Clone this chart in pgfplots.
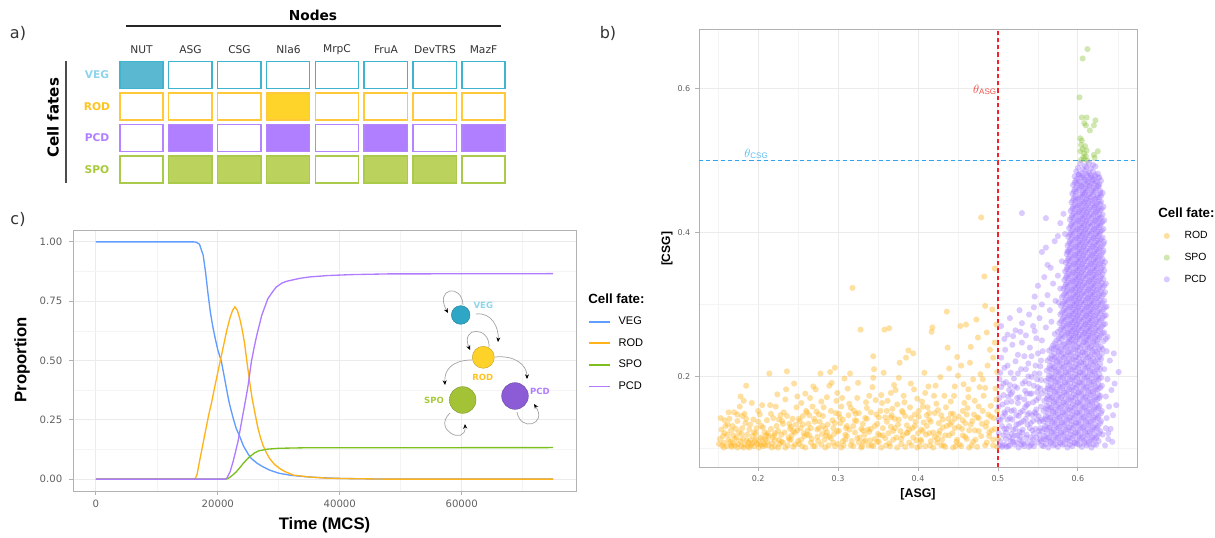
\documentclass[border=0pt]{standalone}
\usepackage{pgfplots}
\pgfplotsset{compat=1.18}
\usepackage{fontspec}
\setmainfont{Liberation Sans}
\newfontfamily\dejavu{DejaVu Sans}
\usetikzlibrary{arrows.meta}
\definecolor{vegL}{HTML}{619CFF}
\definecolor{rodL}{HTML}{FFB21A}
\definecolor{spoL}{HTML}{7CBF1F}
\definecolor{pcdL}{HTML}{B07CFF}
\definecolor{rodP}{HTML}{FFB21A}
\definecolor{spoP}{HTML}{8DC43E}
\definecolor{pcdP}{HTML}{A47AFF}
\definecolor{vegB}{HTML}{40B3CF}
\definecolor{vegF}{HTML}{5BB8D1}
\definecolor{rodB}{HTML}{FFC93A}
\definecolor{rodF}{HTML}{FFD42A}
\definecolor{pcdB}{HTML}{B585FF}
\definecolor{pcdF}{HTML}{AF7FFF}
\definecolor{spoB}{HTML}{AACA4C}
\definecolor{spoF}{HTML}{BBD35C}
\definecolor{vegT}{HTML}{8ED4EA}
\definecolor{rodT}{HTML}{FFC31F}
\definecolor{pcdT}{HTML}{B07EFF}
\definecolor{spoT}{HTML}{A8CA3A}
\definecolor{vegN}{HTML}{2EA6C6}
\definecolor{rodN}{HTML}{FFD22A}
\definecolor{spoN}{HTML}{A4C236}
\definecolor{pcdN}{HTML}{8B5CD6}
\definecolor{thA}{HTML}{F0504A}
\definecolor{thC}{HTML}{5CBEF5}
\definecolor{lnA}{HTML}{F0222B}
\definecolor{lnC}{HTML}{2FA5EE}
\pgfdeclareplotmark{cell}{\pgfpathrectangle{\pgfpoint{-16.2pt}{-10pt}}{\pgfpoint{32.4pt}{20pt}}\pgfusepathqfillstroke}
\pgfplotsset{
  ggbox/.style={scale only axis, axis line style={gray!60, line width=0.6pt},
    tick style={gray!60, line width=0.6pt}, tick align=outside, major tick length=3pt, minor tick length=0pt,
    xtick pos=left, ytick pos=left, grid=both,
    major grid style={gray!16, line width=0.7pt}, minor grid style={gray!9, line width=0.45pt},
    scaled ticks=false, /pgf/number format/assume math mode=true},
}
\begin{document}
\begin{tikzpicture}
\useasboundingbox (0,0) rectangle (911.25pt,-403.5pt);
% ---------------- panel a ----------------
\begin{axis}[at={(0pt,-153.75pt)}, anchor=south west, scale only axis, width=450pt, height=153.75pt,
  xmin=-2.896, xmax=9.384, ymin=-2.381, ymax=4.127, y dir=reverse, axis lines=none, clip=false]
\addplot[only marks, mark=cell, mark options={draw=vegB, fill=vegF, line width=1.1pt}] coordinates {(0,0)};
\addplot[only marks, mark=cell, mark options={draw=vegB, fill=white, line width=1.1pt}] coordinates {(1,0)(2,0)(3,0)(4,0)(5,0)(6,0)(7,0)};
\addplot[only marks, mark=cell, mark options={draw=rodB, fill=rodF, line width=1.1pt}] coordinates {(3,1)};
\addplot[only marks, mark=cell, mark options={draw=rodB, fill=white, line width=1.1pt}] coordinates {(0,1)(1,1)(2,1)(4,1)(5,1)(6,1)(7,1)};
\addplot[only marks, mark=cell, mark options={draw=pcdB, fill=pcdF, line width=1.1pt}] coordinates {(1,2)(3,2)(5,2)(7,2)};
\addplot[only marks, mark=cell, mark options={draw=pcdB, fill=white, line width=1.1pt}] coordinates {(0,2)(2,2)(4,2)(6,2)};
\addplot[only marks, mark=cell, mark options={draw=spoB, fill=spoF, line width=1.1pt}] coordinates {(1,3)(2,3)(3,3)(5,3)(6,3)};
\addplot[only marks, mark=cell, mark options={draw=spoB, fill=white, line width=1.1pt}] coordinates {(0,3)(4,3)(7,3)};
\end{axis}
% ---------------- panel c ----------------
\begin{axis}[ggbox, at={(54.75pt,-368.25pt)}, anchor=south west, width=377.25pt, height=195.75pt,
  xmin=-3750, xmax=78750, ymin=-0.05, ymax=1.05,
  xtick={0,20000,40000,60000}, xticklabels={0,20000,40000,60000},
  ytick={0,0.25,0.5,0.75,1}, yticklabels={0.00,0.25,0.50,0.75,1.00},
  minor xtick={10000,30000,50000,70000}, minor ytick={0.125,0.375,0.625,0.875},
  ticklabel style={font=\dejavu\fontsize{7.6}{9}\selectfont, text=gray!75!black},
  yticklabel style={xshift=-1.5pt},
  legend style={at={(1.024,0.668)}, anchor=north west, draw=none, fill=none, inner sep=0pt, outer sep=0pt,
    font=\fontsize{8.3}{9}\selectfont, row sep=8.7pt, nodes={inner sep=0pt, text height=6pt, text depth=1.5pt},
    /tikz/every odd column/.append style={column sep=5.8pt}},
  legend image code/.code={\draw[#1, line width=1.3pt] (0pt,0pt) -- (15.75pt,0pt);},
  legend cell align=left]
\addplot[color=vegL, line width=1pt] coordinates {(0,1)(16000,1)(16500,0.998)(17000,0.99)(17600,0.944)(18000,0.87)(18400,0.78)(18800,0.70)(19200,0.64)(19600,0.59)(20000,0.545)(20600,0.494)(21000,0.44)(21400,0.385)(21800,0.33)(22200,0.288)(22600,0.25)(23000,0.215)(23600,0.18)(24200,0.14)(25000,0.105)(25500,0.087)(26500,0.066)(27400,0.052)(28500,0.038)(30000,0.025)(32000,0.016)(34500,0.01)(37000,0.006)(40000,0.003)(45000,0.001)(50000,0)(75000,0)};
\addlegendentry{VEG}
\addplot[color=rodL, line width=1pt] coordinates {(0,0)(16000,0)(16300,0.003)(16600,0.02)(17000,0.075)(17500,0.14)(18000,0.205)(18500,0.27)(19000,0.325)(19500,0.39)(20000,0.45)(20500,0.51)(21000,0.57)(21500,0.63)(22000,0.68)(22400,0.71)(22800,0.726)(23200,0.712)(23600,0.677)(24000,0.63)(24400,0.57)(24800,0.49)(25200,0.415)(25600,0.345)(26000,0.29)(26600,0.213)(27000,0.175)(27400,0.143)(28000,0.11)(28500,0.087)(29300,0.062)(30200,0.044)(31000,0.032)(32400,0.017)(35000,0.009)(38000,0.004)(42000,0.002)(48000,0)(75000,0)};
\addlegendentry{ROD}
\addplot[color=spoL, line width=1pt] coordinates {(0,0)(21300,0)(21700,0.003)(22200,0.012)(23000,0.03)(23600,0.048)(24200,0.067)(24800,0.084)(25300,0.096)(26000,0.11)(26700,0.119)(28000,0.126)(30000,0.13)(34000,0.132)(75000,0.133)};
\addlegendentry{SPO}
\addplot[color=pcdL, line width=1pt] coordinates {(0,0)(21200,0)(21500,0.005)(22000,0.03)(22500,0.073)(23300,0.157)(24100,0.27)(24600,0.34)(25000,0.40)(25500,0.494)(26000,0.56)(26400,0.607)(27200,0.69)(28200,0.76)(29000,0.79)(29600,0.81)(30500,0.826)(31300,0.834)(33400,0.846)(35000,0.852)(38000,0.858)(42000,0.862)(48000,0.865)(75000,0.866)};
\addlegendentry{PCD}
\end{axis}
% ---------------- panel b ----------------
\begin{axis}[ggbox, at={(524.25pt,-350.25pt)}, anchor=south west, width=328.5pt, height=328.5pt,
  xmin=126, xmax=674, ymin=74, ymax=683,
  xtick={200,300,400,500,600}, xticklabels={0.2,0.3,0.4,0.5,0.6},
  ytick={200,400,600}, yticklabels={0.2,0.4,0.6},
  minor xtick={150,250,350,450,550,650}, minor ytick={100,300,500},
  ticklabel style={font=\dejavu\fontsize{6}{7}\selectfont, text=gray!75!black},
  legend style={at={(1.061,0.539)}, anchor=north west, draw=none, fill=none, inner sep=0pt, outer sep=0pt,
    font=\fontsize{7.8}{9}\selectfont, row sep=8.8pt, nodes={inner sep=0pt, text height=6pt, text depth=1.5pt},
    /tikz/every odd column/.append style={column sep=11pt}},
  legend image code/.code={\draw[#1] plot coordinates {(0pt,0pt)};},
  legend cell align=left]
\addplot[only marks, color=rodP, mark=*, mark size=2.3pt, mark options={draw opacity=0, fill=rodP, fill opacity=0.4}] coordinates {
(152,113)(155,104)(158,121)(153,142)(157,108)(159,131)(151,106)(156,117)
(161,103)(163,112)(166,125)(168,107)(164,141)(169,118)(162,133)(167,102)(165,109)(170,150)
(171,104)(173,115)(176,122)(178,110)(174,138)(179,103)(172,127)(177,158)(175,106)(180,145)(178,172)
(181,113)(183,105)(186,119)(188,108)(184,135)(189,126)(182,166)(187,103)(185,187)(190,111)(183,148)
(191,104)(193,117)(196,110)(198,128)(194,140)(199,106)(192,163)(197,121)(195,103)(200,152)
(201,108)(203,115)(206,103)(208,122)(204,131)(209,112)(202,147)(207,106)(205,160)(210,118)(203,105)
(211,110)(213,104)(216,127)(218,115)(214,204)(219,142)(212,121)(217,107)(215,160)(220,118)
(221,103)(223,131)(226,112)(228,146)(224,175)(229,119)(222,158)(227,106)(225,124)(230,138)
(231,108)(233,122)(236,207)(238,115)(234,168)(239,134)(232,150)(237,104)(235,182)(240,127)
(241,112)(243,141)(246,105)(248,157)(244,124)(249,172)(242,118)(247,133)(245,190)(250,110)
(251,106)(253,128)(256,145)(258,117)(254,163)(259,176)(252,138)(257,121)(255,103)(260,152)
(261,119)(263,134)(266,108)(268,158)(264,146)(269,186)(262,125)(267,113)(265,170)(270,141)
(271,103)(273,151)(276,128)(278,204)(274,116)(279,165)(272,182)(277,137)(275,110)(280,120)
(281,145)(283,112)(286,171)(288,104)(284,127)(289,187)(282,157)(287,133)(285,118)(290,206)
(291,114)(293,139)(296,103)(298,166)(294,128)(299,177)(292,191)(297,149)(295,120)(300,106)(296,212)
(301,124)(303,135)(306,110)(308,197)(304,158)(309,119)(302,143)(307,104)(305,170)(310,128)
(311,117)(313,146)(316,104)(318,323)(314,162)(319,131)(312,183)(317,110)(315,204)(320,152)
(321,122)(323,138)(326,108)(328,265)(324,170)(329,127)(322,148)(327,115)(325,191)(330,103)
(331,134)(333,119)(336,156)(338,104)(334,142)(339,173)(332,109)(337,126)(335,164)(340,111)
(341,127)(343,185)(346,113)(348,147)(344,228)(349,134)(342,104)(347,167)(345,210)(350,120)(344,198)
(351,109)(353,152)(356,128)(358,265)(354,174)(359,143)(352,118)(357,205)(355,163)(360,104)
(361,137)(363,121)(366,177)(368,155)(364,267)(369,112)(362,166)(367,146)(365,103)(370,188)(366,130)
(371,141)(373,115)(376,198)(378,124)(374,161)(379,106)(372,181)(377,219)(375,133)(380,152)
(381,118)(383,164)(386,132)(388,236)(384,145)(389,108)(382,173)(387,122)(385,226)(390,157)
(391,190)(393,128)(396,147)(398,111)(394,232)(399,169)(392,104)(397,137)(395,182)(400,121)
(401,144)(403,112)(406,158)(408,205)(404,126)(409,177)(402,103)(407,136)(405,165)(410,119)
(411,131)(413,186)(416,110)(418,268)(414,149)(419,122)(412,157)(417,262)(415,104)(420,173)(414,140)
(421,116)(423,162)(426,135)(428,199)(424,108)(429,146)(422,187)(427,124)(425,153)(430,112)
(431,129)(433,173)(436,290)(438,141)(434,118)(439,211)(432,104)(437,240)(435,157)(440,133)
(441,165)(443,121)(446,186)(448,109)(444,148)(449,227)(442,136)(447,103)(445,173)(450,201)(446,128)
(451,144)(453,270)(456,118)(458,163)(454,215)(459,135)(452,105)(457,189)(455,127)(460,272)(456,152)
(461,113)(463,171)(466,241)(468,138)(464,125)(469,196)(462,156)(467,104)(465,219)(470,147)(463,182)
(471,166)(473,279)(476,124)(478,203)(474,143)(479,421)(472,112)(477,185)(475,254)(480,134)(476,158)
(481,196)(483,339)(486,261)(488,147)(484,298)(489,117)(482,173)(487,215)(485,130)(490,237)(486,108)(484,184)
(491,159)(493,293)(496,350)(498,272)(494,226)(499,206)(492,125)(497,183)(495,142)(500,113)(494,104)(498,168)(496,247)
(154,126)(157,101)(162,119)(166,104)(171,113)(174,101)(179,120)(182,101)(186,111)(189,101)(193,107)(197,113)
(201,101)(205,113)(209,104)(213,117)(217,101)(221,111)(225,101)(229,109)(234,101)(239,112)(244,102)(249,125)
(254,112)(259,101)(264,118)(269,103)(274,126)(279,105)(284,101)(289,116)(294,108)(299,124)(304,101)(309,112)
(314,126)(319,103)(324,114)(329,101)(334,111)(339,123)(344,103)(349,109)(354,101)(359,114)(364,107)(369,124)
(374,101)(379,113)(384,102)(389,126)(394,115)(399,101)(404,110)(409,103)(414,121)(419,101)(424,113)(429,104)
(434,102)(439,118)(444,101)(449,112)(454,103)(459,116)(464,101)(469,109)(474,102)(479,117)(484,104)(489,122)(494,112)(499,102)
(158,139)(163,150)(168,131)(174,147)(180,128)(185,141)(190,133)(195,122)(200,137)(206,129)(211,139)(216,148)(221,121)
(226,140)(231,134)(236,145)(241,130)(246,122)(251,141)(256,133)(261,150)(266,128)(271,137)(276,147)(281,131)(286,122)
(291,152)(296,135)(301,148)(306,140)(311,131)(316,156)(321,139)(326,149)(331,125)(336,141)(341,150)(346,131)(351,143)
(356,118)(361,152)(366,143)(371,128)(376,140)(381,150)(386,121)(391,142)(396,131)(401,152)(406,124)(411,146)(416,137)
(421,149)(426,120)(431,140)(436,131)(441,148)(446,141)(451,130)(456,139)(461,147)(466,133)(471,125)(476,142)(481,152)
(486,136)(491,144)(496,127)(499,152)};
\addlegendentry{ROD}
\addplot[only marks, color=spoP, mark=*, mark size=2.3pt, mark options={draw opacity=0, fill=spoP, fill opacity=0.4}] coordinates {
(612,655)(606,642)(602,588)(605,560)(611,560)(622,556)(608,552)(610,549)(620,549)(615,542)(603,531)(605,528)(606,516)
(611,514)(603,513)(608,510)(625,513)(620,508)(621,504)(607,505)(608,502)(604,501)(612,500)(610,506)(604,522)(609,520)};
\addlegendentry{SPO}
\addplot[only marks, color=pcdP, mark=*, mark size=2.3pt, mark options={draw opacity=0, fill=pcdP, fill opacity=0.4}] coordinates {
(603,496)(609,493)(614,497)(619,494)
(600,490)(606,488)(611,491)(616,489)(622,492)
(598,485)(604,482)(609,486)(614,483)(619,485)(625,482)
(596,478)(601,480)(607,476)(612,479)(617,477)(622,480)(627,477)
(597,472)(603,470)(608,474)(613,471)(618,473)(624,470)(629,472)
(594,466)(599,468)(605,464)(610,467)(615,465)(620,468)(626,464)
(596,460)(602,462)(607,458)(612,461)(618,459)(623,462)(628,458)
(593,454)(598,456)(604,452)(609,455)(614,453)(620,456)(625,452)(631,455)
(595,448)(601,446)(606,450)(611,447)(616,449)(622,446)(627,449)
(592,442)(597,444)(603,440)(608,443)(613,441)(618,444)(624,440)(629,443)
(594,436)(600,438)(605,434)(610,437)(616,435)(621,438)(626,434)(632,436)
(591,430)(596,432)(602,428)(607,431)(612,429)(618,432)(623,428)(628,431)
(593,424)(599,426)(604,422)(609,425)(614,423)(620,426)(625,422)(631,425)
(590,418)(595,420)(601,416)(606,419)(611,417)(617,420)(622,416)(627,419)(633,417)
(592,412)(598,414)(603,410)(608,413)(613,411)(619,414)(624,410)(629,413)
(589,406)(594,408)(600,404)(605,407)(610,405)(616,408)(621,404)(626,407)(632,405)
(591,400)(597,402)(602,398)(607,401)(612,399)(618,402)(623,398)(628,401)
(588,394)(593,396)(599,392)(604,395)(609,393)(615,396)(620,392)(625,395)(631,393)
(590,388)(596,390)(601,386)(606,389)(611,387)(617,390)(622,386)(627,389)(633,387)
(587,382)(592,384)(598,380)(603,383)(608,381)(614,384)(619,380)(624,383)(630,381)
(589,376)(595,378)(600,374)(605,377)(610,375)(616,378)(621,374)(626,377)(632,375)
(586,370)(591,372)(597,368)(602,371)(607,369)(613,372)(618,368)(623,371)(629,369)
(588,364)(594,366)(599,362)(604,365)(609,363)(615,366)(620,362)(625,365)(631,363)
(585,358)(590,360)(596,356)(601,359)(606,357)(612,360)(617,356)(622,359)(628,357)(634,359)
(587,352)(593,354)(598,350)(603,353)(608,351)(614,354)(619,350)(624,353)(630,351)
(584,346)(589,348)(595,344)(600,347)(605,345)(611,348)(616,344)(621,347)(627,345)(633,347)
(586,340)(592,342)(597,338)(602,341)(607,339)(613,342)(618,338)(623,341)(629,339)
(583,334)(588,336)(594,332)(599,335)(604,333)(610,336)(615,332)(620,335)(626,333)(632,335)
(585,328)(591,330)(596,326)(601,329)(606,327)(612,330)(617,326)(622,329)(628,327)(635,329)
(582,322)(587,324)(593,320)(598,323)(603,321)(609,324)(614,320)(619,323)(625,321)(631,323)
(584,316)(590,318)(595,314)(600,317)(605,315)(611,318)(616,314)(621,317)(627,315)(634,317)
(580,310)(586,312)(592,308)(597,311)(602,309)(608,312)(613,308)(618,311)(624,309)(630,311)
(583,304)(589,306)(594,302)(599,305)(604,303)(610,306)(615,302)(620,305)(626,303)(633,305)(576,303)
(579,298)(585,300)(591,296)(596,299)(601,297)(607,300)(612,296)(617,299)(623,297)(629,299)(636,297)
(582,292)(588,294)(593,290)(598,293)(603,291)(609,294)(614,290)(619,293)(625,291)(632,293)
(578,286)(584,288)(590,284)(595,287)(600,285)(606,288)(611,284)(616,287)(622,285)(628,287)(635,285)
(581,280)(587,282)(592,278)(597,281)(602,279)(608,282)(613,278)(618,281)(624,279)(631,281)
(577,274)(583,276)(589,272)(594,275)(599,273)(605,276)(610,272)(615,275)(621,273)(627,275)(634,273)
(580,268)(586,270)(591,266)(596,269)(601,267)(607,270)(612,266)(617,269)(623,267)(630,269)
(575,262)(582,264)(588,260)(593,263)(598,261)(604,264)(609,260)(614,263)(620,261)(626,263)(633,261)
(578,256)(585,258)(590,254)(595,257)(600,255)(606,258)(611,254)(616,257)(622,255)(629,257)(637,255)
(573,250)(580,252)(587,248)(592,251)(597,249)(603,252)(608,248)(613,251)(619,249)(625,251)(632,249)
(601,481)(606,479)(611,482)(616,480)(621,478)
(599,475)(604,477)(610,473)(615,476)(620,474)(626,476)
(596,469)(601,471)(607,467)(612,470)(617,468)(622,471)(627,467)
(598,463)(604,465)(609,461)(614,464)(620,462)(625,465)
(595,457)(601,459)(606,455)(611,458)(617,456)(622,459)(628,455)
(597,451)(603,449)(608,453)(613,450)(619,452)(624,449)(629,451)
(594,445)(599,447)(605,443)(610,446)(615,444)(621,447)(626,443)
(596,439)(602,437)(607,441)(612,438)(618,440)(623,437)(628,440)
(593,433)(598,435)(604,431)(609,434)(614,432)(620,435)(625,431)(630,433)
(595,427)(601,429)(606,425)(611,428)(616,426)(622,429)(627,425)
(592,421)(597,423)(603,419)(608,422)(613,420)(619,423)(624,419)(629,421)
(594,415)(600,417)(605,413)(610,416)(615,414)(621,417)(626,413)(631,415)
(591,409)(596,411)(602,407)(607,410)(612,408)(618,411)(623,407)(628,410)
(593,403)(599,405)(604,401)(609,404)(614,402)(620,405)(625,401)(630,403)
(590,397)(595,399)(601,395)(606,398)(611,396)(617,399)(622,395)(627,398)
(592,391)(598,393)(603,389)(608,392)(613,390)(619,393)(624,389)(629,391)
(589,385)(594,387)(600,383)(605,386)(610,384)(616,387)(621,383)(626,386)(632,384)
(591,379)(597,381)(602,377)(607,380)(612,378)(618,381)(623,377)(628,379)
(588,373)(593,375)(599,371)(604,374)(609,372)(615,375)(620,371)(625,374)(631,372)
(590,367)(596,369)(601,365)(606,368)(611,366)(617,369)(622,365)(627,367)
(587,361)(592,363)(598,359)(603,362)(608,360)(614,363)(619,359)(624,362)(630,360)
(589,355)(595,357)(600,353)(605,356)(610,354)(616,357)(621,353)(626,356)(632,354)
(586,349)(591,351)(597,347)(602,350)(607,348)(613,351)(618,347)(623,350)(629,348)
(588,343)(594,345)(599,341)(604,344)(609,342)(615,345)(620,341)(625,344)(631,342)
(585,337)(590,339)(596,335)(601,338)(606,336)(612,339)(617,335)(622,338)(628,336)
(587,331)(593,333)(598,329)(603,332)(608,330)(614,333)(619,329)(624,332)(630,330)
(584,325)(589,327)(595,323)(600,326)(605,324)(611,327)(616,323)(621,326)(627,324)(633,326)
(586,319)(592,321)(597,317)(602,320)(607,318)(613,321)(618,317)(623,320)(629,318)
(582,313)(588,315)(594,311)(599,314)(604,312)(610,315)(615,311)(620,314)(626,312)(632,314)
(585,307)(591,309)(596,305)(601,308)(606,306)(612,309)(617,305)(622,308)(628,306)
(581,301)(587,303)(593,299)(598,302)(603,300)(609,303)(614,299)(619,302)(625,300)(631,302)
(584,295)(590,297)(595,293)(600,296)(605,294)(611,297)(616,293)(621,296)(627,294)(634,296)
(580,289)(586,291)(592,287)(597,290)(602,288)(608,291)(613,287)(618,290)(624,288)(630,290)
(583,283)(589,285)(594,281)(599,284)(604,282)(610,285)(615,281)(620,284)(626,282)(633,284)
(579,277)(585,279)(591,275)(596,278)(601,276)(607,279)(612,275)(617,278)(623,276)(629,278)
(582,271)(588,273)(593,269)(598,272)(603,270)(609,273)(614,269)(619,272)(625,270)(632,272)
(578,265)(584,267)(590,263)(595,266)(600,264)(606,267)(611,263)(616,266)(622,264)(628,266)
(580,259)(587,261)(592,257)(597,260)(602,258)(608,261)(613,257)(618,260)(624,258)(631,260)
(576,253)(583,255)(589,251)(594,254)(599,252)(605,255)(610,251)(615,254)(621,252)(627,254)(635,252)
(557,103)(563,101)(569,104)(575,102)(581,105)(587,101)(593,103)(599,106)(605,102)(611,104)(617,101)(623,105)
(554,110)(560,112)(566,109)(572,111)(578,108)(584,112)(590,110)(596,108)(602,112)(608,110)(614,109)(620,112)(626,110)
(558,117)(564,115)(570,118)(576,116)(582,119)(588,115)(594,117)(600,119)(606,116)(612,118)(618,115)(624,117)(631,119)
(555,124)(561,126)(567,123)(573,125)(579,122)(585,126)(591,124)(597,122)(603,126)(609,124)(615,123)(621,126)(628,124)
(559,131)(565,129)(571,132)(577,130)(583,133)(589,129)(595,131)(601,133)(607,130)(613,132)(619,129)(625,131)
(556,138)(562,140)(568,137)(574,139)(580,136)(586,140)(592,138)(598,136)(604,140)(610,138)(616,137)(622,140)(629,138)
(560,145)(566,143)(572,146)(578,144)(584,147)(590,143)(596,145)(602,147)(608,144)(614,146)(620,143)(626,145)
(557,152)(563,154)(569,151)(575,153)(581,150)(587,154)(593,152)(599,150)(605,154)(611,152)(617,151)(623,154)(630,152)
(561,159)(567,157)(573,160)(579,158)(585,161)(591,157)(597,159)(603,161)(609,158)(615,160)(621,157)(627,159)
(558,166)(564,168)(570,165)(576,167)(582,164)(588,168)(594,166)(600,164)(606,168)(612,166)(618,165)(624,168)
(562,173)(568,171)(574,174)(580,172)(586,175)(592,171)(598,173)(604,175)(610,172)(616,174)(622,171)(628,173)
(559,180)(565,182)(571,179)(577,181)(583,178)(589,182)(595,180)(601,178)(607,182)(613,180)(619,179)(625,182)
(563,187)(569,185)(575,188)(581,186)(587,189)(593,185)(599,187)(605,189)(611,186)(617,188)(623,185)(630,187)
(560,194)(566,196)(572,193)(578,195)(584,192)(590,196)(596,194)(602,192)(608,196)(614,194)(620,193)(626,196)
(564,201)(570,199)(576,202)(582,200)(588,203)(594,199)(600,201)(606,203)(612,200)(618,202)(624,199)
(561,208)(567,210)(573,207)(579,209)(585,206)(591,210)(597,208)(603,206)(609,210)(615,208)(621,207)(628,210)
(565,215)(571,213)(577,216)(583,214)(589,217)(595,213)(601,215)(607,217)(613,214)(619,216)(625,213)
(562,222)(568,224)(574,221)(580,223)(586,220)(592,224)(598,222)(604,220)(610,224)(616,222)(622,221)(629,224)
(567,229)(573,227)(579,230)(585,228)(591,231)(597,227)(603,229)(609,231)(615,228)(621,230)(627,227)
(564,236)(570,238)(576,235)(582,237)(588,234)(594,238)(600,236)(606,234)(612,238)(618,236)(624,235)(631,238)
(569,243)(575,241)(581,244)(587,242)(593,245)(599,241)(605,243)(611,245)(617,242)(623,244)(629,241)
(560,106)(566,107)(572,105)(578,107)(584,106)(590,105)(596,107)(602,105)(608,107)(614,106)(620,105)
(557,113)(563,114)(569,112)(575,114)(581,113)(587,112)(593,114)(599,112)(605,114)(611,113)(617,112)(623,114)
(561,120)(567,121)(573,119)(579,121)(585,120)(591,119)(597,121)(603,119)(609,121)(615,120)(621,119)(627,121)
(558,127)(564,128)(570,126)(576,128)(582,127)(588,126)(594,128)(600,126)(606,128)(612,127)(618,126)(624,128)
(562,134)(568,135)(574,133)(580,135)(586,134)(592,133)(598,135)(604,133)(610,135)(616,134)(622,133)(628,135)
(559,141)(565,142)(571,140)(577,142)(583,141)(589,140)(595,142)(601,140)(607,142)(613,141)(619,140)(625,142)
(563,148)(569,149)(575,147)(581,149)(587,148)(593,147)(599,149)(605,147)(611,149)(617,148)(623,147)(629,149)
(560,155)(566,156)(572,154)(578,156)(584,155)(590,154)(596,156)(602,154)(608,156)(614,155)(620,154)(626,156)
(564,162)(570,163)(576,161)(582,163)(588,162)(594,161)(600,163)(606,161)(612,163)(618,162)(624,161)
(561,169)(567,170)(573,168)(579,170)(585,169)(591,168)(597,170)(603,168)(609,170)(615,169)(621,168)(627,170)
(565,176)(571,177)(577,175)(583,177)(589,176)(595,175)(601,177)(607,175)(613,177)(619,176)(625,175)
(562,183)(568,184)(574,182)(580,184)(586,183)(592,182)(598,184)(604,182)(610,184)(616,183)(622,182)(628,184)
(566,190)(572,191)(578,189)(584,191)(590,190)(596,189)(602,191)(608,189)(614,191)(620,190)(626,189)
(563,197)(569,198)(575,196)(581,198)(587,197)(593,196)(599,198)(605,196)(611,198)(617,197)(623,196)(629,198)
(567,204)(573,205)(579,203)(585,205)(591,204)(597,203)(603,205)(609,203)(615,205)(621,204)(627,203)
(564,211)(570,212)(576,210)(582,212)(588,211)(594,210)(600,212)(606,210)(612,212)(618,211)(624,210)
(568,218)(574,219)(580,217)(586,219)(592,218)(598,217)(604,219)(610,217)(616,219)(622,218)(628,217)
(565,225)(571,226)(577,224)(583,226)(589,225)(595,224)(601,226)(607,224)(613,226)(619,225)(625,224)
(570,232)(576,233)(582,231)(588,233)(594,232)(600,231)(606,233)(612,231)(618,233)(624,232)(630,231)
(567,239)(573,240)(579,238)(585,240)(591,239)(597,238)(603,240)(609,238)(615,240)(621,239)(627,238)
(571,246)(577,247)(583,245)(589,247)(595,246)(601,245)(607,247)(613,245)(619,247)(625,246)
(502,104)(507,118)(511,102)(514,131)(519,109)(523,146)(526,101)(530,122)(534,157)(537,108)(541,135)(545,103)(548,167)(552,119)
(503,139)(506,161)(510,113)(515,104)(518,178)(522,127)(527,112)(531,190)(535,141)(539,102)(543,125)(546,150)(550,108)(553,183)
(501,121)(505,102)(509,148)(513,172)(517,120)(521,105)(525,163)(529,136)(533,103)(536,119)(540,176)(544,112)(549,140)(554,158)
(504,185)(508,127)(512,154)(516,110)(520,197)(524,118)(528,150)(532,106)(538,162)(542,199)(547,127)(551,145)(555,104)
(501,158)(506,144)(510,192)(514,116)(518,140)(523,108)(527,171)(531,126)(535,210)(539,149)(544,164)(548,115)(552,204)
(503,110)(507,174)(511,127)(516,205)(520,153)(524,184)(529,105)(533,228)(537,133)(541,115)(545,187)(550,232)(553,128)
(502,196)(508,212)(513,103)(517,165)(522,221)(526,134)(530,247)(536,176)(540,240)(543,146)(547,215)(551,170)(555,250)
(504,226)(509,237)(515,188)(519,256)(525,204)(528,262)(534,193)(538,218)(542,228)(546,263)(549,196)(554,222)
(505,131)(509,105)(512,140)(517,152)(521,118)(526,145)(530,109)(533,168)(537,147)(541,104)(544,138)(548,154)(552,137)(555,176)
(502,170)(507,190)(511,164)(515,142)(519,126)(524,170)(528,116)(532,138)(536,160)(540,128)(545,120)(549,178)(553,112)(555,140)
(506,104)(510,122)(514,181)(518,113)(523,133)(527,123)(531,152)(535,115)(539,190)(543,107)(547,148)(551,124)(554,195)(501,140)
(503,205)(508,150)(512,215)(516,175)(521,186)(525,230)(529,210)(534,180)(538,200)(542,176)(546,204)(550,185)(553,214)(556,235)
(634,104)(638,113)(641,127)(636,142)(644,146)(639,158)(635,172)(642,181)(648,160)(637,196)(633,210)(651,206)(640,222)
(636,235)(645,232)(638,121)(643,109)(635,128)(646,190)
(530,427)(560,420)(578,413)(555,373)(560,379)(587,374)(571,388)(580,360)(566,351)(575,340)(558,338)(569,329)(550,326)
(578,322)(562,313)(572,305)(555,300)(545,296)(565,292)(539,286)(552,281)(530,274)(544,270)(560,268)(522,264)(512,258)
(535,257)(548,253)(567,276)(571,259)(504,270)(518,244)(508,252)(584,398)(582,426)(575,395)(562,355)(546,311)(527,292)(515,281)};
\addlegendentry{PCD}
\addplot[forget plot, color=lnA, line width=0.85pt, dash pattern=on 3.2pt off 2.2pt] coordinates {(500,74)(500,683)};
\addplot[forget plot, color=lnC, line width=0.75pt, dash pattern=on 3.2pt off 2.2pt] coordinates {(126,500)(674,500)};
\end{axis}
% ---------------- text and schematic, pixel coordinates ----------------
\begin{scope}[x=0.75pt,y=-0.75pt]
% panel a texts
\node[font=\dejavu\fontsize{12}{14}\selectfont, text=black!80] at (18,33) {a)};
\node[font=\dejavu\bfseries\fontsize{10.3}{12}\selectfont] at (313,15) {Nodes};
\draw[black!85, line width=1pt] (126,26) -- (501,26);
\foreach \x/\t in {141.5/NUT,190.5/ASG,239.5/CSG,288.5/Nla6,337/MrpC,386/FruA,435/DevTRS,483.5/MazF}
  \node[font=\dejavu\fontsize{8}{9}\selectfont, text=black!80] at (\x,50) {\t};
\node[font=\dejavu\bfseries\fontsize{8}{9}\selectfont, text=vegT] at (97,75) {VEG};
\node[font=\dejavu\bfseries\fontsize{8}{9}\selectfont, text=rodT] at (97,106.5) {ROD};
\node[font=\dejavu\bfseries\fontsize{8}{9}\selectfont, text=pcdT] at (97,138) {PCD};
\node[font=\dejavu\bfseries\fontsize{8}{9}\selectfont, text=spoT] at (97,169.5) {SPO};
\node[font=\dejavu\bfseries\fontsize{11.3}{13}\selectfont, rotate=90] at (53,118) {Cell fates};
\draw[black!70, line width=0.9pt] (66,61) -- (66,183);
% panel b texts
\node[font=\dejavu\fontsize{12}{14}\selectfont, text=black!80] at (608,33) {b)};
\node[font=\bfseries\fontsize{9}{10}\selectfont, rotate=90] at (667,249) {[CSG]};
\node[font=\bfseries\fontsize{9.3}{10}\selectfont] at (918,494) {[ASG]};
\node[anchor=south west, inner sep=0pt, text=thC, font=\fontsize{9}{10}\selectfont] at (744,159) {$\theta$\textsubscript{CSG}};
\node[anchor=east, inner sep=0pt, text=thA, font=\fontsize{9}{10}\selectfont] at (997,90) {$\theta$\textsubscript{ASG}};
\node[anchor=west, inner sep=0pt, font=\bfseries\fontsize{10}{11}\selectfont] at (1158,213) {Cell fate:};
% panel c texts
\node[font=\dejavu\fontsize{12}{14}\selectfont, text=black!80] at (18,219) {c)};
\node[font=\bfseries\fontsize{12.5}{14}\selectfont, rotate=90] at (22,360) {Proportion};
\node[font=\bfseries\fontsize{12.5}{14}\selectfont] at (324.5,525) {Time (MCS)};
\node[anchor=west, inner sep=0pt, font=\bfseries\fontsize{10}{11}\selectfont] at (588,299) {Cell fate:};
% network inset
\begin{scope}[gray!70, line width=0.55pt, -{Stealth[length=3.5pt,width=3pt,black]}]
\draw (463,305) .. controls (462,283) and (434,288) .. (448,313);
\draw (476,314) .. controls (492,312) and (499,328) .. (498,342);
\draw (489,347) .. controls (490,326) and (460,326) .. (470,350);
\draw (472,360) .. controls (452,360) and (444,370) .. (445,385);
\draw (495,357) .. controls (515,355) and (527,365) .. (527,379);
\draw (450,413) .. controls (432,430) and (466,446) .. (465,424);
\draw (517,412) .. controls (520,432) and (548,425) .. (534,404);
\end{scope}
\filldraw[fill=vegN, draw=vegN!75!black, line width=0.3pt] (460.7,315) circle (7pt);
\filldraw[fill=rodN, draw=rodN!75!black, line width=0.3pt] (483.3,357.3) circle (8.25pt);
\filldraw[fill=spoN, draw=spoN!75!black, line width=0.3pt] (462.7,400) circle (10pt);
\filldraw[fill=pcdN, draw=pcdN!75!black, line width=0.3pt] (515,396) circle (10pt);
\node[font=\dejavu\bfseries\fontsize{6.4}{7}\selectfont, text=vegT] at (483.3,305) {VEG};
\node[font=\dejavu\bfseries\fontsize{6.4}{7}\selectfont, text=rodT] at (482.7,377.3) {ROD};
\node[font=\dejavu\bfseries\fontsize{6.4}{7}\selectfont, text=spoT] at (434,400) {SPO};
\node[font=\dejavu\bfseries\fontsize{6.4}{7}\selectfont, text=pcdT] at (540,391.7) {PCD};
\end{scope}
\end{tikzpicture}
\end{document}
